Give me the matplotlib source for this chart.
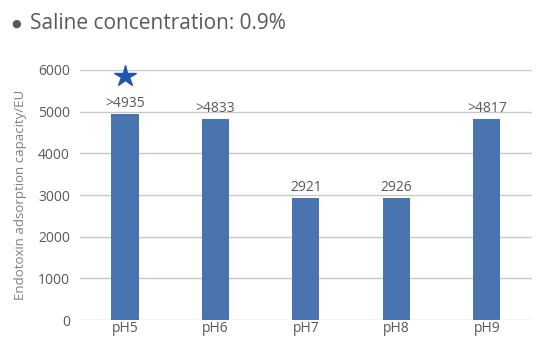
import matplotlib.pyplot as plt

categories = ['pH5', 'pH6', 'pH7', 'pH8', 'pH9']
values = [4935, 4833, 2921, 2926, 4817]
labels = ['>4935', '>4833', '2921', '2926', '>4817']
star_value = 5850

plt.rcParams['font.family'] = ['Open Sans', 'DejaVu Sans']

fig = plt.figure(figsize=(5.39, 3.38), dpi=100)
ax = fig.add_axes([0.148, 0.053, 0.839, 0.74])

x = range(len(categories))
ax.bar(x, values, width=0.3, color='#4a74b0', zorder=3)
for i, (v, lab) in enumerate(zip(values, labels)):
    ax.text(i, v + 70, lab, ha='center', va='bottom', fontsize=10, color='#595959')

ax.plot(0, star_value, marker='*', markersize=16, color='#1f56b0', clip_on=False, zorder=4)

ax.set_xlim(-0.5, 4.5)
ax.set_ylim(0, 6000)
ax.set_yticks(range(0, 6001, 1000))
ax.set_xticks(list(x))
ax.set_xticklabels(categories)
ax.yaxis.grid(True, color='#c8c8c8', linewidth=1)
ax.set_axisbelow(True)
for s in ax.spines.values():
    s.set_visible(False)
ax.tick_params(length=0, labelsize=10, colors='#595959')
ax.tick_params(axis='x', pad=1)
ax.tick_params(axis='y', pad=7)
ax.set_ylabel('Endotoxin adsorption capacity/EU', fontsize=9.5, color='#7f7f7f', labelpad=8)

fig.text(0.022, 0.93, '\u25cf', fontsize=8, color='#595959', va='center')
fig.text(0.055, 0.93, 'Saline concentration: 0.9%', fontsize=15, color='#595959', va='center')

plt.savefig('out.png', dpi=100)
